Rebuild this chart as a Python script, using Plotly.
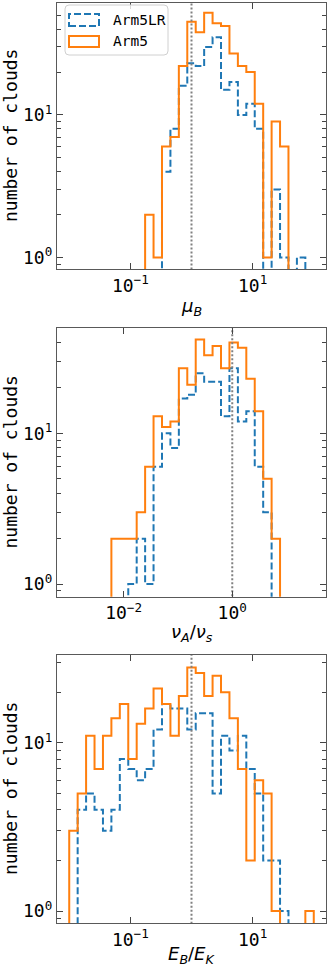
import numpy as np
import plotly.graph_objects as go
from plotly.subplots import make_subplots

# histogram bin edges (29 log-spaced bins per panel)
mu_edges = np.logspace(-2, 2, 30)
va_edges = np.logspace(-3, 1.5, 30)
eb_edges = np.logspace(-2, 2, 30)

# counts per bin
mu_arm5lr = [0, 0, 0, 0, 0, 0, 0, 0, 0, 0, 0, 4, 8, 16, 23, 22, 30, 35, 15, 17,
             10, 12, 8, 0, 3, 1, 0, 1, 0]
mu_arm5 = [0, 0, 0, 0, 0, 0, 0, 0, 0, 2, 1, 6, 7, 22, 45, 38, 52, 44, 42, 27,
           22, 20, 12, 1, 9, 6, 0, 0, 0]

va_arm5lr = [0, 0, 0, 0, 0, 0, 0, 1, 2, 1, 6, 10, 8, 17, 18, 25, 22, 22, 13, 27,
             12, 14, 6, 3, 0, 0, 0, 0, 0]
va_arm5 = [0, 0, 0, 0, 0, 2, 2, 2, 3, 6, 13, 11, 12, 27, 21, 42, 33, 38, 27, 40,
           37, 23, 14, 5, 2, 0, 0, 0, 0]

eb_arm5lr = [0, 4, 5, 4, 3, 4, 8, 7, 6, 7, 12, 17, 16, 16, 12, 15, 15, 5, 11, 9,
             11, 7, 5, 2, 2, 1, 0, 0, 0]
eb_arm5 = [3, 5, 11, 7, 11, 14, 17, 8, 13, 16, 21, 17, 11, 19, 28, 26, 19, 25, 20, 14,
           7, 2, 6, 5, 1, 0, 0, 0, 1]

x_titles = ["<i>μ</i><sub><i>B</i></sub>",
            "<i>ν</i><sub><i>A</i></sub>/<i>ν</i><sub><i>s</i></sub>",
            "<i>E</i><sub><i>B</i></sub>/<i>E</i><sub><i>K</i></sub>"]
x_tickvals = [[0.1, 10], [0.01, 1], [0.1, 10]]
x_ticktext = [["10<sup>−1</sup>", "10<sup>1</sup>"],
              ["10<sup>−2</sup>", "10<sup>0</sup>"],
              ["10<sup>−1</sup>", "10<sup>1</sup>"]]
x_ranges = [[-2.2, 2.2], [-3.225, 1.725], [-2.2, 2.2]]
y_ranges = [[-0.08, 1.785], [-0.084, 1.697], [-0.071, 1.522]]

BLUE = "#1f77b4"
ORANGE = "#ff7f0e"
MONO = "DejaVu Sans Mono"
W, H = 327, 967
L, R, T, B = 57, 1, 3, 44
# panel pixel extents (top, bottom)
panel_px = [(3, 269), (328.3, 596.7), (655, 923)]


def px_x(x):
    return (x - L) / (W - L - R)


def px_y(y):
    return (H - B - y) / (H - T - B)


def step_xy(edges, counts, floor=1e-3):
    xs, ys = [edges[0]], [floor]
    for i, c in enumerate(counts):
        v = c if c > 0 else floor
        xs += [edges[i], edges[i + 1]]
        ys += [v, v]
    xs.append(edges[-1])
    ys.append(floor)
    return xs, ys


fig = make_subplots(rows=3, cols=1)

data = [(mu_edges, mu_arm5lr, mu_arm5),
        (va_edges, va_arm5lr, va_arm5),
        (eb_edges, eb_arm5lr, eb_arm5)]

minor_y = [0.9] + [k for k in range(2, 10)] + [10 * k for k in range(2, 10)]

for i, (edges, lr, a5) in enumerate(data):
    row = i + 1
    xs, ys = step_xy(edges, lr)
    fig.add_trace(go.Scatter(x=xs, y=ys, mode="lines", name="Arm5LR",
                             line=dict(color=BLUE, width=2, dash="7px,3px"),
                             showlegend=False), row=row, col=1)
    xs, ys = step_xy(edges, a5)
    fig.add_trace(go.Scatter(x=xs, y=ys, mode="lines", name="Arm5",
                             line=dict(color=ORANGE, width=2),
                             showlegend=False), row=row, col=1)
    fig.add_trace(go.Scatter(x=[1, 1], y=[1e-3, 1e3], mode="lines",
                             line=dict(color="#808080", width=2, dash="2px,2px"),
                             showlegend=False), row=row, col=1)

    top, bot = panel_px[i]
    fig.update_yaxes(type="log", range=y_ranges[i], domain=[px_y(bot), px_y(top)],
                     automargin=False,
                     tickvals=[1, 10], ticktext=["10<sup>0</sup>", "10<sup>1</sup>"],
                     ticks="inside", ticklen=6, tickwidth=1, tickcolor="#444",
                     minor=dict(tickvals=minor_y, ticks="inside", ticklen=3.5,
                                tickwidth=1, tickcolor="#444"),
                     showline=True, linecolor="#595959", linewidth=1.2, mirror="allticks",
                     showgrid=False, zeroline=False,
                     tickfont=dict(family=MONO, size=18, color="black"),
                     row=row, col=1)
    fig.update_xaxes(type="log", range=x_ranges[i], domain=[0, 1],
                     automargin=False,
                     tickvals=x_tickvals[i], ticktext=x_ticktext[i],
                     ticks="inside", ticklen=6, tickwidth=1, tickcolor="#444",
                     showline=True, linecolor="#595959", linewidth=1.2, mirror="allticks",
                     showgrid=False, zeroline=False,
                     tickfont=dict(family=MONO, size=18, color="black"),
                     row=row, col=1)

    fig.add_annotation(text="number of clouds", xref="paper", yref="paper",
                       x=px_x(10), y=px_y((top + bot) / 2), textangle=-90,
                       showarrow=False, xanchor="center", yanchor="middle",
                       font=dict(family=MONO, size=18, color="black"))

x_title_px = [307, 633, 955]
for i, t in enumerate(x_titles):
    fig.add_annotation(text=t, xref="paper", yref="paper",
                       x=px_x(191.5), y=px_y(x_title_px[i]),
                       showarrow=False, xanchor="center", yanchor="middle",
                       font=dict(family="DejaVu Sans", size=18, color="black"))

# legend drawn by hand (matplotlib style patch handles)
x0, x1, y0, y1 = px_x(65), px_x(168), px_y(55), px_y(5)
rx, ry = px_x(57 + 4), 4 / (H - T - B)
path = (f"M{x0 + rx},{y1} L{x1 - rx},{y1} Q{x1},{y1} {x1},{y1 - ry} "
        f"L{x1},{y0 + ry} Q{x1},{y0} {x1 - rx},{y0} L{x0 + rx},{y0} "
        f"Q{x0},{y0} {x0},{y0 + ry} L{x0},{y1 - ry} Q{x0},{y1} {x0 + rx},{y1} Z")
fig.add_shape(type="path", path=path, xref="paper", yref="paper",
              fillcolor="rgba(255,255,255,0.8)", line=dict(color="#d0d0d0", width=1))
fig.add_shape(type="rect", xref="paper", yref="paper",
              x0=px_x(69), x1=px_x(99), y0=px_y(26), y1=px_y(14),
              line=dict(color=BLUE, width=2, dash="7px,3px"))
fig.add_shape(type="rect", xref="paper", yref="paper",
              x0=px_x(69), x1=px_x(99), y0=px_y(47), y1=px_y(36),
              line=dict(color=ORANGE, width=2))
for txt, yc in [("Arm5LR", 20), ("Arm5", 41.5)]:
    fig.add_annotation(text=txt, xref="paper", yref="paper",
                       x=px_x(111), y=px_y(yc), showarrow=False,
                       xanchor="left", yanchor="middle",
                       font=dict(family=MONO, size=14.5, color="black"))

fig.update_layout(width=W, height=H, margin=dict(l=L, r=R, t=T, b=B),
                  plot_bgcolor="white", paper_bgcolor="white", showlegend=False)

# drop the default 8px page margin so the figure sits at the window's corner
fig.write_html("out.html", config={"displayModeBar": False},
               post_script="document.body.style.margin='0';"
                           "document.body.style.overflow='hidden';")
